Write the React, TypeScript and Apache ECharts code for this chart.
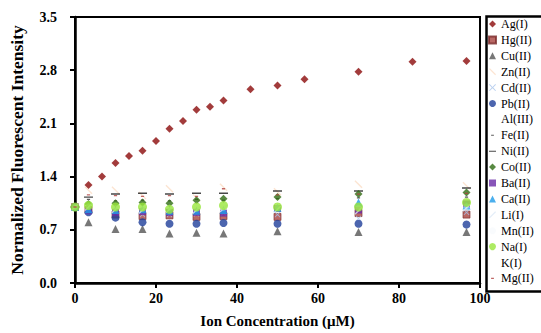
import React, { useEffect, useRef } from "react";
import * as echarts from "echarts";

const xAg = [0, 3.33, 6.67, 10, 13.33, 16.67, 20, 23.33, 26.67, 30, 33.33, 36.67, 43.33, 50, 56.67, 70, 83.33, 96.67];
const agValues = [1.0, 1.29, 1.40, 1.58, 1.67, 1.74, 1.87, 2.03, 2.13, 2.28, 2.32, 2.40, 2.55, 2.60, 2.68, 2.78, 2.91, 2.92];

const xIon = [0, 3.33, 10, 16.67, 23.33, 30, 36.67, 50, 70, 96.67];
const hgValues = [1.0, 0.96, 0.90, 0.88, 0.89, 0.87, 0.88, 0.87, 0.92, 0.90];
const cuValues = [1.0, 0.80, 0.71, 0.71, 0.65, 0.66, 0.65, 0.68, 0.67, 0.67];
const znValues = [1.0, 1.22, 1.22, 1.15, 1.24, 1.12, 1.26, 1.20, 1.30, 1.28];
const cdValues = [1.0, 0.95, 0.92, 0.90, 0.90, 0.91, 0.92, 0.90, 0.85, 0.93];
const pbValues = [1.0, 0.93, 0.86, 0.80, 0.78, 0.78, 0.79, 0.78, 0.78, 0.77];
const alValues = [1.0, 1.0, 0.99, 0.98, 0.98, 0.99, 0.98, 0.99, 1.0, 1.0];
const feValues = [1.0, 1.10, 1.08, 1.09, 1.08, 1.10, 1.09, 1.11, 1.12, 1.13];
const niValues = [1.0, 1.13, 1.17, 1.18, 1.17, 1.18, 1.18, 1.21, 1.21, 1.25];
const coValues = [1.0, 1.04, 1.05, 1.06, 1.05, 1.09, 1.11, 1.13, 1.17, 1.19];
const baValues = [1.0, 0.95, 0.93, 0.94, 0.93, 0.93, 0.92, 0.98, 0.96, 1.04];
const caValues = [1.0, 0.97, 0.96, 0.97, 0.95, 0.95, 0.96, 0.99, 1.06, 1.02];
const liValues = [1.0, 1.0, 0.97, 0.96, 0.97, 0.96, 0.98, 0.97, 0.95, 0.99];
const mnValues = [1.0, 1.01, 0.99, 0.98, 0.99, 0.98, 0.99, 1.0, 0.99, 1.01];
const naValues = [1.0, 1.02, 1.0, 1.0, 0.97, 1.0, 1.02, 1.0, 1.0, 1.06];
const kValues = [1.0, 1.0, 0.98, 0.99, 0.98, 0.99, 1.0, 0.99, 1.0, 1.0];
const mgValues = [1.0, 1.16, 1.15, 1.14, 1.15, 1.14, 1.24, 1.16, 1.17, 1.18];

const yTicks = [0, 0.7, 1.4, 2.1, 2.8, 3.5];
const xTicks = [0, 20, 40, 60, 80, 100];

const SYM_X = "path://M0,1L1,0L5,4L9,0L10,1L6,5L10,9L9,10L5,6L1,10L0,9L4,5Z";
const SYM_BACK = "path://M0,1.2L1.2,0L10,8.8L8.8,10Z";
const SYM_FWD = "path://M8.8,0L10,1.2L1.2,10L0,8.8Z";
const SYM_DASH_LONG = "path://M0,0L0,0.01L0.01,0ZM0,4.2L10,4.2L10,5.8L0,5.8ZM10,10L10,9.99L9.99,10Z";
const SYM_DASH_SHORT = "path://M0,0L0,0.01L0.01,0ZM3,4.2L7,4.2L7,5.8L3,5.8ZM10,10L10,9.99L9.99,10Z";

const pair = (xs: number[], ys: number[]) => xs.map((x, i) => [x, ys[i]]);

type Spec = { name: string; xs: number[]; ys: number[]; symbol: string; size: number; color: string; border?: string };

const specs: Spec[] = [
  { name: "Ag(I)", xs: xAg, ys: agValues, symbol: "diamond", size: 8, color: "#8B0A0A" },
  { name: "Hg(II)", xs: xIon, ys: hgValues, symbol: "rect", size: 7, color: "#A8423F", border: "#7A2B2A" },
  { name: "Cu(II)", xs: xIon, ys: cuValues, symbol: "triangle", size: 8, color: "#555555" },
  { name: "Zn(II)", xs: xIon, ys: znValues, symbol: SYM_BACK, size: 8, color: "#FBDDC6" },
  { name: "Cd(II)", xs: xIon, ys: cdValues, symbol: SYM_X, size: 6, color: "#A9C4EB" },
  { name: "Pb(II)", xs: xIon, ys: pbValues, symbol: "circle", size: 8, color: "#1F3E9A" },
  { name: "Al(III)", xs: xIon, ys: alValues, symbol: "circle", size: 6, color: "rgba(255,255,255,0)" },
  { name: "Fe(II)", xs: xIon, ys: feValues, symbol: SYM_DASH_SHORT, size: 8, color: "#333333" },
  { name: "Ni(II)", xs: xIon, ys: niValues, symbol: SYM_DASH_LONG, size: 9, color: "#1A1A1A" },
  { name: "Co(II)", xs: xIon, ys: coValues, symbol: "diamond", size: 8, color: "#2E6B12" },
  { name: "Ba(II)", xs: xIon, ys: baValues, symbol: "rect", size: 7, color: "#6A2AA8" },
  { name: "Ca(II)", xs: xIon, ys: caValues, symbol: "triangle", size: 8, color: "#1E9BE8" },
  { name: "Li(I)", xs: xIon, ys: liValues, symbol: SYM_FWD, size: 8, color: "#DCE8F6" },
  { name: "Mn(II)", xs: xIon, ys: mnValues, symbol: "circle", size: 6, color: "rgba(240,244,250,0.5)" },
  { name: "Na(I)", xs: xIon, ys: naValues, symbol: "circle", size: 9, color: "#99E63C" },
  { name: "K(I)", xs: xIon, ys: kValues, symbol: "circle", size: 6, color: "rgba(255,255,255,0)" },
  { name: "Mg(II)", xs: xIon, ys: mgValues, symbol: SYM_DASH_SHORT, size: 8, color: "#B0413E" },
];

export default function App() {
  const ref = useRef<HTMLDivElement>(null);
  useEffect(() => {
    if (!ref.current) return;
    const chart = echarts.init(ref.current, null, { renderer: "svg" });
    const serif = "'Liberation Serif', 'Times New Roman', serif";
    chart.setOption({
      animation: false,
      backgroundColor: "#ffffff",
      grid: {
        left: 74, right: 61, top: 17, bottom: 48.5,
        show: true, borderColor: "#000", borderWidth: 2, backgroundColor: "transparent",
      },
      xAxis: {
        type: "value", min: xTicks[0], max: xTicks[xTicks.length - 1], interval: 20,
        name: "Ion Concentration (μM)", nameLocation: "middle", nameGap: 30,
        nameTextStyle: { fontFamily: serif, fontWeight: "bold", fontSize: 15, color: "#000" },
        axisLine: { lineStyle: { color: "#000", width: 2.5 } },
        axisTick: { show: true, inside: false, length: 5, lineStyle: { color: "#000", width: 2 } },
        axisLabel: { fontFamily: serif, fontWeight: "bold", fontSize: 14, color: "#000", margin: 8 },
        splitLine: { show: false },
      },
      yAxis: {
        type: "value", min: yTicks[0], max: yTicks[yTicks.length - 1], interval: 0.7,
        name: "Normalized Fluorescent Intensity", nameLocation: "middle", nameGap: 49,
        nameTextStyle: { fontFamily: serif, fontWeight: "bold", fontSize: 17.5, color: "#000" },
        axisLine: { lineStyle: { color: "#000", width: 2.5 } },
        axisTick: { show: true, inside: false, length: 5, lineStyle: { color: "#000", width: 2 } },
        axisLabel: {
          fontFamily: serif, fontWeight: "bold", fontSize: 14, color: "#000", margin: 18,
          formatter: (v: number) => v.toFixed(1),
        },
        splitLine: { show: false },
      },
      legend: {
        orient: "vertical", left: 488, top: 18, itemWidth: 7, itemHeight: 7, itemGap: 3.9,
        padding: 0,
        textStyle: { fontFamily: serif, fontSize: 12, color: "#000", lineHeight: 12 },
        data: specs.map((s) => s.name),
      },
      graphic: [
        {
          type: "rect", left: 484, top: 14, z: 100, silent: true,
          shape: { width: 70, height: 275 },
          style: { fill: "none", stroke: "#000", lineWidth: 2.5 },
        },
      ],
      series: specs.map((s) => ({
        type: "scatter",
        name: s.name,
        symbol: s.symbol,
        symbolSize: s.size,
        data: pair(s.xs, s.ys),
        itemStyle: s.border ? { color: s.color, borderColor: s.border, borderWidth: 0.8 } : { color: s.color },
        emphasis: { disabled: true },
      })),
    });
    return () => chart.dispose();
  }, []);
  return <div ref={ref} style={{ position: "fixed", left: 0, top: 0, width: 541, height: 333 }} />;
}
